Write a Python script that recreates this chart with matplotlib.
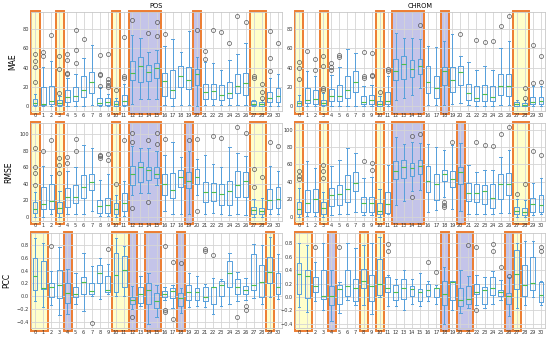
import matplotlib
matplotlib.use("Agg")
import matplotlib.pyplot as plt
from matplotlib.patches import Rectangle
import matplotlib.transforms as mtransforms

categories = [str(i) for i in range(31)]

# ---------------- MAE / POS ----------------
pos_mae_lo  = [0, 0, 0, 0, 0, 0, 1, 2, 0, 0, 0, 0, 3, 8, 8, 8, 2, 1, 2, 2, 1, 2, 2, 2, 2, 2, 2, 0.5, 0.5, 1, 1]
pos_mae_q1  = [1.3, 2, 3, 1.5, 5, 6, 10, 14, 2, 2, 1, 2, 27, 25, 26, 29, 11, 9, 20, 18, 22, 8, 8, 7, 9, 14, 11.5, 1.4, 1, 5, 4.7]
pos_mae_med = [3.7, 3, 6, 4, 10, 11, 17, 25, 4, 5, 3, 6, 35, 42, 36, 40, 26, 17, 31, 27, 34, 14.5, 15.5, 12, 14, 21, 24, 2.7, 2.5, 9, 10.5]
pos_mae_q3  = [7.7, 19.8, 21.5, 7, 17, 20, 32, 36, 9, 9, 6, 12, 47, 51, 43, 45, 35, 38, 42, 41, 39, 23, 23, 22, 25.6, 34, 35, 5.5, 5, 15, 19.6]
pos_mae_hi  = [13.4, 40.6, 47, 10.5, 29, 34, 50, 64, 20, 13, 9, 23, 74, 71, 56, 58, 62, 70, 56, 78, 51, 46, 45, 38, 48.5, 54, 66, 7, 7, 29, 34]
pos_mae_out = [[25.5, 40.6, 47, 54], [51.7, 56.7], [74], [14.4, 39, 51.7], [34, 35, 48, 54],
               [45, 58, 79], [70], [], [21, 33, 34, 53], [20, 22, 25, 28, 54], [17], [29, 31, 72],
               [89], [], [76], [73, 87], [75], [], [], [], [79.5], [49, 57.6], [79.5], [77], [66],
               [93], [87], [29, 31.7], [9, 14.5, 23], [37, 50, 78.5], [66]]

# ---------------- MAE / CHROM ----------------
chr_mae_lo  = [0, 0, 0, 0, 0, 0, 1, 1, 0, 0, 0, 0, 6.8, 8.4, 11.8, 18.6, 2, 2, 2, 3, 4, 2, 1, 1, 1, 2, 2, 0, 0, 0, 0]
chr_mae_q1  = [1, 3.4, 2.7, 1.7, 5.7, 5.7, 8.4, 15, 2.4, 2.4, 1, 2.4, 27, 28.7, 30.4, 33.8, 13.5, 8.4, 22.6, 15, 22, 6.8, 5.7, 5.7, 5.7, 11.8, 11, 1, 1, 2.4, 2.4]
chr_mae_med = [3.4, 6.8, 7.4, 4, 10.8, 10.8, 17, 25, 4.4, 6.8, 3, 5.7, 37, 44, 38.9, 42, 25, 19.3, 37, 27, 35.5, 13.5, 9, 12.8, 10, 21, 21, 2.4, 1.7, 4.4, 5.7]
chr_mae_q3  = [6, 18.6, 17, 6.8, 18, 22, 31.4, 37, 10.8, 11.8, 5.7, 15, 49, 52.4, 48.3, 49, 42, 32, 40.5, 40.5, 42, 23, 21, 22, 21, 33.8, 33.8, 4.4, 4, 10, 10]
chr_mae_hi  = [11.8, 37, 32, 13.5, 32.8, 40.5, 59, 55.7, 21, 22.6, 11, 32, 76, 71, 71, 70, 62.5, 61, 67.6, 75, 52.4, 45.6, 38, 42, 37.8, 60, 67.6, 6.8, 6.4, 21, 21]
chr_mae_out = [[28.7, 39.5, 45.6], [57.4], [37.8, 49], [17, 18.6, 42, 51.7], [38, 40.5, 44.6],
               [50.7, 53], [], [], [29.4, 31.4, 56.8], [31.4, 32.8, 55.7], [14.5], [37, 38.9],
               [], [], [], [84.5], [], [], [], [], [75], [], [68.6], [67], [67.6], [82.8], [93],
               [], [8.4, 18.6], [24, 64], [25, 52.4]]

# ---------------- RMSE / POS ----------------
pos_rmse_lo  = [0, 0, 2.7, 0, 2.7, 2.7, 2.7, 6.7, 1, 1, 0, 1, 26, 28, 28, 38, 6.7, 2.7, 2.7, 2.7, 26, 2.7, 4, 3, 2, 3.5, 2, 0, 0, 2.7, 2.7]
pos_rmse_q1  = [4.7, 8.6, 8.6, 4, 11.8, 16.5, 22.4, 32, 4.7, 4.7, 2.7, 6.7, 38, 42, 44, 47, 26, 23, 35.3, 34, 40, 18, 18.4, 14.5, 13.7, 24.3, 24.3, 2.7, 2.7, 8.6, 10.6]
pos_rmse_med = [8.6, 15.3, 18.4, 10.6, 24.3, 24.3, 35.3, 42, 12.5, 14.5, 8.6, 16.5, 51.8, 59.6, 56.5, 51.8, 40, 32, 48, 42.7, 48, 30, 29.4, 27, 31, 38.8, 42.7, 7.8, 6.7, 19.6, 21]
pos_rmse_q3  = [17.3, 36, 39, 17.3, 34, 38, 49.8, 51.8, 20.4, 22.4, 16.5, 28, 61.6, 66, 60.4, 60.4, 51.8, 52.6, 57, 53.7, 57.6, 42, 41, 40, 42.7, 55, 53.7, 11.4, 10.6, 33, 35.3]
pos_rmse_hi  = [29.4, 61, 50.6, 31.4, 55, 59.6, 87, 83, 44, 51.8, 26, 43, 85, 83, 83, 79, 74.5, 90, 71.8, 79, 70, 75, 63.5, 60, 84, 77, 73, 21, 22.4, 61.6, 55.7]
pos_rmse_out = [[38.8, 53, 59.6, 83], [80], [93], [53, 62.7, 71], [65.5, 72.5], [80, 94], [], [],
                [71, 73, 75], [69, 76], [40], [93], [10.6, 90, 100.8], [], [17.6, 93], [88, 100.8],
                [93.7], [], [], [93], [6.7, 93.7], [], [98], [95], [], [108], [101], [36, 57.6],
                [47.8], [90], [86]]

# ---------------- RMSE / CHROM ----------------
chr_rmse_lo  = [0, 1, 1, 0, 2, 2.5, 2.5, 5.6, 2, 2, 0, 2.5, 13, 17.5, 29, 30, 5.6, 7.5, 22.4, 8.6, 6.7, 2.5, 2.5, 2.5, 2.5, 3.7, 3.7, 0, 0, 2, 2.5]
chr_rmse_q1  = [2.6, 5.6, 5.6, 3, 12.3, 13.8, 16.8, 29, 4.8, 4.8, 2.6, 3.7, 43, 44.8, 46.6, 49.3, 28, 18.7, 41, 33.6, 37.3, 17.5, 16.8, 15, 10, 20.5, 24.3, 2.6, 1.9, 4.8, 5.6]
chr_rmse_med = [8.2, 16, 19.8, 9.3, 24.3, 26, 31.7, 38.4, 16, 16, 6.3, 14.2, 53, 56.7, 56, 57.8, 41, 37.3, 49.3, 43, 51.5, 27, 26.9, 29, 21, 37.3, 37.3, 6.7, 5.6, 14.2, 13]
chr_rmse_q3  = [16.8, 31, 31.7, 16.8, 32.8, 36, 47.4, 51.5, 23, 23, 16, 28, 63.4, 65.3, 61.6, 65.3, 57.8, 49.3, 54, 52, 56.7, 39, 38, 36.6, 38, 48.5, 50.4, 11, 10, 21.6, 24.3]
chr_rmse_hi  = [32.5, 64, 56, 28.7, 57.8, 65.3, 79, 72.8, 44.8, 45.9, 31.7, 59.7, 91.4, 84, 85.8, 84.7, 83, 80, 76.5, 82.8, 84.7, 59.7, 51.5, 54, 53.4, 69, 76.5, 19.8, 18.7, 38.4, 44.8]
chr_rmse_out = [[43, 47, 53], [], [], [44.8, 53, 59], [], [], [], [], [63.4], [54, 61.6], [], [],
                [], [], [22.4, 93], [95], [], [], [11, 13, 16.8], [85.8], [], [], [85.8], [82],
                [81], [95], [102.6], [25.4], [38], [75.4], [71]]

# ---------------- PCC / POS ----------------
pos_pcc_lo  = [-0.07, -0.17, -0.14, -0.30, -0.28, -0.12, -0.23, 0.0, -0.05, 0.04, 0.01, 0.01, -0.20, -0.16, -0.43, -0.33, -0.06, -0.18, -0.27, -0.17, -0.15, -0.17, -0.28, -0.16, -0.13, -0.08, -0.06, -0.03, -0.13, -0.01, -0.04]
pos_pcc_q1  = [0.10, 0.11, -0.02, -0.03, -0.11, -0.02, 0.04, 0.04, 0.21, 0.07, 0.06, 0.15, -0.12, -0.10, -0.13, -0.18, -0.01, -0.03, -0.16, -0.06, -0.06, -0.07, -0.13, 0.01, 0.14, 0.03, 0.03, 0.09, -0.01, 0.20, 0.03]
pos_pcc_med = [0.31, 0.12, 0.15, 0.18, 0.05, 0.03, 0.22, 0.08, 0.36, 0.10, 0.33, 0.41, -0.06, 0.04, 0.09, -0.07, 0.04, 0.08, -0.03, 0.06, 0.06, -0.01, 0.14, 0.18, 0.36, 0.15, 0.10, 0.18, 0.22, 0.38, 0.14]
pos_pcc_q3  = [0.59, 0.55, 0.20, 0.41, 0.21, 0.14, 0.30, 0.21, 0.48, 0.32, 0.68, 0.63, -0.01, 0.14, 0.20, 0.05, 0.08, 0.12, 0.05, 0.17, 0.13, 0.15, 0.15, 0.23, 0.55, 0.27, 0.16, 0.66, 0.48, 0.62, 0.37]
pos_pcc_hi  = [0.91, 0.83, 0.40, 0.77, 0.43, 0.36, 0.68, 0.47, 0.59, 0.51, 0.91, 0.78, 0.16, 0.31, 0.36, 0.18, 0.14, 0.17, 0.13, 0.37, 0.32, 0.19, 0.28, 0.27, 0.68, 0.38, 0.28, 0.82, 0.80, 0.92, 0.66]
pos_pcc_out = [[], [], [0.78], [], [], [], [], [-0.42], [], [0.73], [], [], [-0.32], [], [], [],
               [-0.22, -0.24, 0.78], [-0.35, 0.54], [0.52], [], [], [0.70, 0.74], [0.65], [], [],
               [-0.32], [-0.16, -0.21], [], [], [], []]

# ---------------- PCC / CHROM ----------------
chr_pcc_lo  = [-0.15, -0.22, -0.06, -0.20, -0.36, -0.24, -0.05, -0.12, -0.12, -0.25, 0.0, -0.14, -0.14, -0.20, -0.10, -0.13, -0.06, -0.11, -0.40, -0.19, -0.24, -0.17, -0.12, -0.16, -0.10, -0.05, -0.29, -0.17, -0.12, 0.0, -0.12]
chr_pcc_q1  = [0.05, -0.01, 0.07, -0.03, -0.12, -0.10, 0.02, -0.06, 0.14, -0.06, 0.03, 0.07, -0.05, -0.03, 0.01, -0.06, 0.02, 0.0, -0.12, -0.05, -0.13, -0.10, 0.05, -0.10, 0.03, 0.02, -0.10, 0.12, 0.02, 0.10, -0.08]
chr_pcc_med = [0.34, 0.31, 0.17, 0.02, 0.02, 0.12, 0.16, 0.14, 0.24, 0.16, 0.20, 0.14, 0.07, 0.14, 0.12, 0.07, 0.10, 0.13, 0.05, 0.23, -0.05, -0.03, 0.08, 0.10, 0.14, 0.08, 0.01, 0.34, 0.18, 0.21, 0.03]
chr_pcc_q3  = [0.51, 0.40, 0.29, 0.40, 0.17, 0.18, 0.40, 0.27, 0.41, 0.32, 0.57, 0.29, 0.18, 0.26, 0.17, 0.12, 0.19, 0.14, 0.24, 0.24, 0.14, 0.16, 0.19, 0.15, 0.29, 0.10, 0.06, 0.70, 0.47, 0.60, 0.22]
chr_pcc_hi  = [0.81, 0.78, 0.52, 0.80, 0.40, 0.22, 0.81, 0.73, 0.78, 0.80, 0.89, 0.33, 0.27, 0.40, 0.27, 0.35, 0.24, 0.18, 0.44, 0.24, 0.40, 0.31, 0.33, 0.29, 0.38, 0.25, 0.29, 0.81, 0.83, 0.84, 0.24]
chr_pcc_out = [[], [], [0.75], [], [], [0.74], [], [], [], [], [], [0.69, 0.79], [], [], [], [],
               [0.52], [0.37], [], [], [], [0.78], [-0.19, 0.75], [], [0.69, 0.79], [0.44], [0.31],
               [], [], [], [0.68, 0.75]]

# highlight groups: (first category, last category, kind)
hl_mae_pos  = [(0, 0, "y"), (3, 3, "y"), (10, 10, "y"), (12, 15, "b"), (20, 20, "b"), (27, 28, "y")]
hl_mae_chr  = [(0, 0, "y"), (3, 3, "y"), (10, 10, "y"), (12, 15, "b"), (18, 18, "b"), (27, 28, "y")]
hl_rmse_pos = [(0, 0, "y"), (3, 3, "y"), (10, 10, "y"), (12, 15, "b"), (19, 19, "b"), (27, 28, "y")]
hl_rmse_chr = [(0, 0, "y"), (3, 3, "y"), (10, 10, "y"), (12, 15, "b"), (20, 20, "b"), (27, 28, "y")]
hl_pcc_pos  = [(0, 1, "y"), (4, 4, "b"), (10, 11, "y"), (12, 12, "b"), (14, 15, "b"), (18, 18, "b"), (29, 29, "y")]
hl_pcc_chr  = [(0, 1, "y"), (4, 4, "b"), (8, 8, "y"), (10, 10, "y"), (18, 18, "b"), (20, 21, "b"), (26, 26, "b"), (27, 27, "y")]

panels = [
    ("MAE", "POS", pos_mae_lo, pos_mae_q1, pos_mae_med, pos_mae_q3, pos_mae_hi, pos_mae_out, hl_mae_pos, [0, 20, 40, 60, 80]),
    ("MAE", "CHROM", chr_mae_lo, chr_mae_q1, chr_mae_med, chr_mae_q3, chr_mae_hi, chr_mae_out, hl_mae_chr, [0, 20, 40, 60, 80]),
    ("RMSE", "", pos_rmse_lo, pos_rmse_q1, pos_rmse_med, pos_rmse_q3, pos_rmse_hi, pos_rmse_out, hl_rmse_pos, [0, 20, 40, 60, 80, 100]),
    ("RMSE", "", chr_rmse_lo, chr_rmse_q1, chr_rmse_med, chr_rmse_q3, chr_rmse_hi, chr_rmse_out, hl_rmse_chr, [0, 20, 40, 60, 80, 100]),
    ("PCC", "", pos_pcc_lo, pos_pcc_q1, pos_pcc_med, pos_pcc_q3, pos_pcc_hi, pos_pcc_out, hl_pcc_pos, [-0.4, -0.2, 0.0, 0.2, 0.4, 0.6, 0.8]),
    ("PCC", "", chr_pcc_lo, chr_pcc_q1, chr_pcc_med, chr_pcc_q3, chr_pcc_hi, chr_pcc_out, hl_pcc_chr, [-0.4, -0.2, 0.0, 0.2, 0.4, 0.6, 0.8]),
]

W, H = 550, 340
fig = plt.figure(figsize=(5.5, 3.4), dpi=100)
col_x = [(31, 282), (295, 545)]
row_y = [(12, 111), (123, 221), (233, 328)]

BOX_C = "#56a0dc"
MED_C = "#4cbf4c"
ORANGE = "#ED7D31"
FILL = {"y": (1.0, 1.0, 0.55, 0.45), "b": (0.45, 0.45, 0.80, 0.42)}

for k, (ylab, title, lo, q1, med, q3, hi, out, hls, yt) in enumerate(panels):
    r, c = divmod(k, 2)
    x0, x1 = col_x[c]
    ytop, ybot = row_y[r]
    ax = fig.add_axes([x0 / W, 1 - ybot / H, (x1 - x0) / W, (ybot - ytop) / H])
    ax.set_facecolor("white")
    stats = [dict(whislo=lo[i], q1=q1[i], med=med[i], q3=q3[i], whishi=hi[i], fliers=out[i], label=categories[i])
             for i in range(len(categories))]
    ax.bxp(stats, positions=list(range(len(categories))), widths=0.6, showfliers=True,
           boxprops=dict(color=BOX_C, linewidth=0.7),
           whiskerprops=dict(color=BOX_C, linewidth=0.7),
           capprops=dict(color=BOX_C, linewidth=0.7),
           medianprops=dict(color=MED_C, linewidth=0.8),
           flierprops=dict(marker="o", markersize=2.9, markerfacecolor="none",
                           markeredgecolor="#555555", markeredgewidth=0.5))
    ax.set_xlim(-0.5, len(categories) - 0.5)
    ax.set_xticks(range(len(categories)))
    ax.set_xticklabels(categories)
    ax.set_yticks(yt)
    ax.grid(True, color="#d5d5d5", linewidth=0.6)
    ax.set_axisbelow(True)
    for s in ax.spines.values():
        s.set_color("#c8c8c8")
        s.set_linewidth(0.6)
    ax.tick_params(axis="both", length=0, pad=1.5, labelsize=3.6, colors="#333333")
    if c == 0:
        ax.set_ylabel(ylab, fontsize=5.5, labelpad=4)
    if title:
        ax.set_title(title, fontsize=4.8, pad=3)
    trans = mtransforms.blended_transform_factory(ax.transData, ax.transAxes)
    for (a, b, kind) in hls:
        rect = Rectangle((a - 0.45, -0.03), (b - a) + 1.0, 1.04, transform=trans,
                         facecolor=FILL[kind], edgecolor=ORANGE, linewidth=1.4,
                         clip_on=False, zorder=0.5)
        ax.add_patch(rect)

fig.savefig("out.png", dpi=100)
